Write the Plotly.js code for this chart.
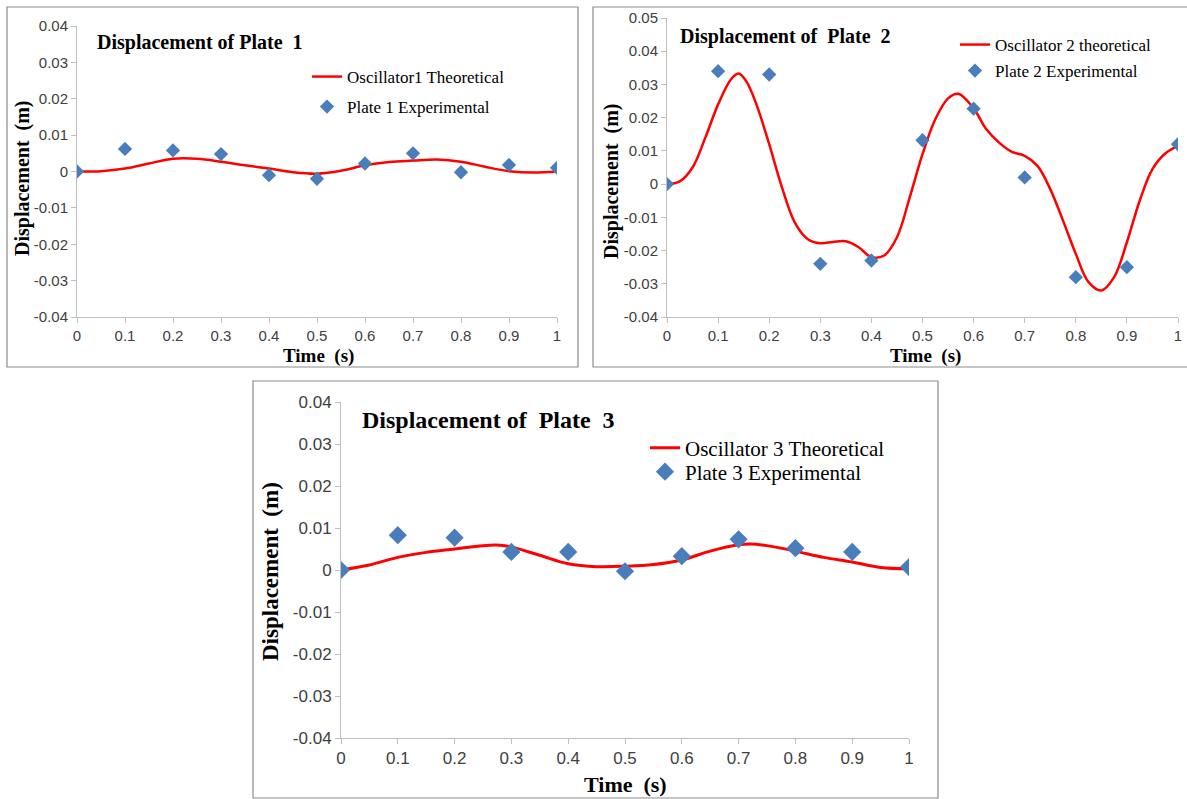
<!DOCTYPE html>
<html>
<head>
<meta charset="utf-8">
<script src="https://cdn.plot.ly/plotly-3.0.1.min.js"></script>
<style>
html,body{margin:0;padding:0;background:#fff;}
#chart{width:1187px;height:799px;}
</style>
</head>
<body>
<div id="chart"></div>
<script>
// ---- Data ----
const timeExp = [0, 0.1, 0.2, 0.3, 0.4, 0.5, 0.6, 0.7, 0.8, 0.9, 1.0];

const timeTheo1 = [0, 0.05, 0.1, 0.15, 0.2, 0.25, 0.3, 0.35, 0.4, 0.45, 0.5, 0.55, 0.6, 0.65, 0.7, 0.75, 0.8, 0.85, 0.9, 0.95, 1.0];
const plate1Theo = [0, 0.0001, 0.0008, 0.0022, 0.0035, 0.0035, 0.0027, 0.0017, 0.0008, -0.0002, -0.0006, 0.0002, 0.0017, 0.0026, 0.003, 0.0033, 0.0027, 0.0013, 0.0001, -0.0003, 0.0];
const plate1Exp = [0, 0.0062, 0.0058, 0.0048, -0.0010, -0.0020, 0.0022, 0.0050, -0.0002, 0.0018, 0.0010];

const timeTheo2 = [0, 0.025, 0.05, 0.075, 0.1, 0.125, 0.14, 0.155, 0.175, 0.2, 0.225, 0.25, 0.275, 0.3, 0.325, 0.35, 0.375, 0.4, 0.425, 0.45, 0.475, 0.5, 0.525, 0.55, 0.57, 0.6, 0.625, 0.65, 0.675, 0.7, 0.725, 0.75, 0.775, 0.8, 0.825, 0.85, 0.875, 0.9, 0.925, 0.95, 0.975, 1.0];
const plate2Theo = [0, 0.0008, 0.005, 0.014, 0.024, 0.0315, 0.0333, 0.031, 0.024, 0.012, -0.001, -0.0115, -0.0165, -0.0178, -0.0174, -0.0172, -0.019, -0.022, -0.0215, -0.016, -0.004, 0.009, 0.0195, 0.0258, 0.0272, 0.0228, 0.0165, 0.0125, 0.0097, 0.0085, 0.0055, -0.0015, -0.011, -0.021, -0.0295, -0.032, -0.028, -0.0175, -0.005, 0.0045, 0.0092, 0.0115];
const plate2Exp = [0, 0.034, 0.033, -0.024, -0.023, 0.0132, 0.0227, 0.0020, -0.028, -0.025, 0.012];

const timeTheo3 = [0, 0.05, 0.1, 0.15, 0.2, 0.25, 0.28, 0.3, 0.35, 0.4, 0.45, 0.5, 0.55, 0.6, 0.65, 0.7, 0.72, 0.75, 0.8, 0.85, 0.9, 0.95, 1.0];
const plate3Theo = [0, 0.0012, 0.003, 0.0042, 0.005, 0.0058, 0.0059, 0.0055, 0.0035, 0.0015, 0.0008, 0.0009, 0.0013, 0.0024, 0.0045, 0.006, 0.0062, 0.0058, 0.0045, 0.003, 0.0019, 0.0006, 0.0003];
const plate3Exp = [0, 0.0083, 0.0077, 0.0043, 0.0043, -0.0003, 0.0033, 0.0073, 0.0052, 0.0043, 0.0007];

const xTickVals = [0, 0.1, 0.2, 0.3, 0.4, 0.5, 0.6, 0.7, 0.8, 0.9, 1];
const xTickText = ['0', '0.1', '0.2', '0.3', '0.4', '0.5', '0.6', '0.7', '0.8', '0.9', '1'];
const yTickVals1 = [-0.04, -0.03, -0.02, -0.01, 0, 0.01, 0.02, 0.03, 0.04];
const yTickText1 = ['-0.04', '-0.03', '-0.02', '-0.01', '0', '0.01', '0.02', '0.03', '0.04'];
const yTickVals2 = [-0.04, -0.03, -0.02, -0.01, 0, 0.01, 0.02, 0.03, 0.04, 0.05];
const yTickText2 = ['-0.04', '-0.03', '-0.02', '-0.01', '0', '0.01', '0.02', '0.03', '0.04', '0.05'];

const theoNames = ['Oscillator1 Theoretical', 'Oscillator 2 theoretical', 'Oscillator 3 Theoretical'];
const expNames = ['Plate 1 Experimental', 'Plate 2 Experimental', 'Plate 3 Experimental'];
const panelTitles = ['Displacement of Plate  1', 'Displacement of  Plate  2', 'Displacement of  Plate  3'];
const yTitle = 'Displacement  (m)';
const xTitle = 'Time  (s)';

// ---- Layout helpers (pixel -> paper) ----
const W = 1187, H = 799;
const px = v => v / W;
const py = v => 1 - v / H;

const RED = '#FF0000';
const BLUE = '#4A7EBB';
const SERIF = '"Liberation Serif", "Times New Roman", serif';
const SANS = '"Liberation Sans Narrow", "Liberation Sans", Arial, sans-serif';

const traces = [
  {x: timeTheo1, y: plate1Theo, name: theoNames[0], type: 'scatter', mode: 'lines', line: {color: RED, width: 2.5, shape: 'spline', smoothing: 1}, xaxis: 'x', yaxis: 'y', legend: 'legend'},
  {x: timeExp, y: plate1Exp, name: expNames[0], type: 'scatter', mode: 'markers', marker: {symbol: 'diamond', color: BLUE, size: 11}, xaxis: 'x', yaxis: 'y', legend: 'legend2'},
  {x: timeTheo2, y: plate2Theo, name: theoNames[1], type: 'scatter', mode: 'lines', line: {color: RED, width: 2.5, shape: 'spline', smoothing: 1}, xaxis: 'x2', yaxis: 'y2', legend: 'legend3'},
  {x: timeExp, y: plate2Exp, name: expNames[1], type: 'scatter', mode: 'markers', marker: {symbol: 'diamond', color: BLUE, size: 11}, xaxis: 'x2', yaxis: 'y2', legend: 'legend4'},
  {x: timeTheo3, y: plate3Theo, name: theoNames[2], type: 'scatter', mode: 'lines', line: {color: RED, width: 3, shape: 'spline', smoothing: 1}, xaxis: 'x3', yaxis: 'y3', legend: 'legend5'},
  {x: timeExp, y: plate3Exp, name: expNames[2], type: 'scatter', mode: 'markers', marker: {symbol: 'diamond', color: BLUE, size: 14}, xaxis: 'x3', yaxis: 'y3', legend: 'legend6'}
];

function xAxis(dom, anchor, fs) {
  return {
    domain: dom, anchor: anchor, range: [0, 1], tickvals: xTickVals, ticktext: xTickText,
    showgrid: false, zeroline: false, showline: true, linecolor: '#BFBFBF', linewidth: 1,
    ticks: 'outside', ticklen: 5, tickcolor: '#BFBFBF', tickfont: {family: SANS, size: fs, color: '#404040'},
    fixedrange: true, automargin: false
  };
}
function yAxis(dom, anchor, range, tv, tt, fs) {
  return {
    domain: dom, anchor: anchor, range: range, tickvals: tv, ticktext: tt,
    showgrid: false, zeroline: false, showline: true, linecolor: '#BFBFBF', linewidth: 1,
    ticks: 'outside', ticklen: 5, tickcolor: '#BFBFBF', tickfont: {family: SANS, size: fs, color: '#404040'},
    fixedrange: true, automargin: false
  };
}
function legendAt(xp, yp, fs) {
  return {x: px(xp), y: py(yp), xanchor: 'left', yanchor: 'middle', bgcolor: 'rgba(0,0,0,0)',
    borderwidth: 0, font: {family: SERIF, size: fs, color: '#000'}, itemclick: false, itemdoubleclick: false};
}
function boldText(text, xp, yp, fs, extra) {
  return Object.assign({text: '<b>' + text + '</b>', xref: 'paper', yref: 'paper', x: px(xp), y: py(yp),
    showarrow: false, font: {family: SERIF, size: fs, color: '#000'}}, extra || {});
}
function border(x0, y0, x1, y1) {
  return {type: 'rect', xref: 'paper', yref: 'paper', x0: px(x0), x1: px(x1), y0: py(y1), y1: py(y0),
    line: {color: '#8C8C8C', width: 1.2}, fillcolor: 'rgba(0,0,0,0)', layer: 'below'};
}

const layout = {
  width: W, height: H, margin: {l: 0, r: 0, t: 0, b: 0},
  paper_bgcolor: '#fff', plot_bgcolor: 'rgba(0,0,0,0)',
  xaxis: xAxis([px(77), px(557)], 'y', 15),
  yaxis: yAxis([py(317), py(26)], 'x', [-0.04, 0.04], yTickVals1, yTickText1, 15),
  xaxis2: xAxis([px(667), px(1178)], 'y2', 15),
  yaxis2: yAxis([py(317), py(18)], 'x2', [-0.04, 0.05], yTickVals2, yTickText2, 15),
  xaxis3: xAxis([px(341), px(909)], 'y3', 17),
  yaxis3: yAxis([py(738), py(402)], 'x3', [-0.04, 0.04], yTickVals1, yTickText1, 17),
  legend: legendAt(307, 77, 17),
  legend2: legendAt(307, 107, 17),
  legend3: legendAt(955, 45, 17),
  legend4: legendAt(955, 71, 17),
  legend5: legendAt(645, 448, 21),
  legend6: legendAt(645, 472, 21),
  shapes: [border(7, 7, 578, 367), border(593, 7, 1190, 367), border(253, 381, 938, 798)],
  annotations: [
    boldText(panelTitles[0], 95, 42, 20, {xanchor: 'left', yanchor: 'middle'}),
    boldText(panelTitles[1], 678, 37, 20, {xanchor: 'left', yanchor: 'middle'}),
    boldText(panelTitles[2], 360, 420, 24, {xanchor: 'left', yanchor: 'middle'}),
    boldText(yTitle, 22, 178, 20, {textangle: -90, xanchor: 'center', yanchor: 'middle'}),
    boldText(yTitle, 612, 181, 20, {textangle: -90, xanchor: 'center', yanchor: 'middle'}),
    boldText(yTitle, 270, 572, 23, {textangle: -90, xanchor: 'center', yanchor: 'middle'}),
    boldText(xTitle, 318, 356, 19, {xanchor: 'center', yanchor: 'middle'}),
    boldText(xTitle, 925, 356, 19, {xanchor: 'center', yanchor: 'middle'}),
    boldText(xTitle, 625, 784, 22, {xanchor: 'center', yanchor: 'middle'})
  ],
  showlegend: true
};

Plotly.newPlot('chart', traces, layout, {staticPlot: true, displayModeBar: false});
</script>
</body>
</html>
